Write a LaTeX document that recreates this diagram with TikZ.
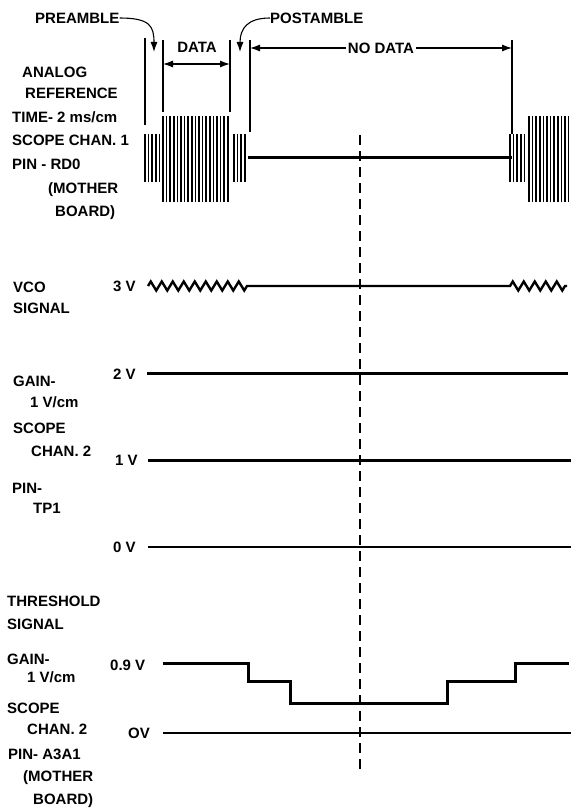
\documentclass[tikz,border=0pt]{standalone}
\usepackage{fontspec}
\setmainfont{Liberation Sans}
\usetikzlibrary{positioning,arrows.meta,decorations.pathmorphing}

\begin{document}
\begin{tikzpicture}[
		  x=1pt,y=-1pt,
		  lbl/.style={font=\fontsize{15}{17}\selectfont\bfseries,inner sep=0pt,anchor=west,text height=10.7pt,text depth=0pt},
		  marker/.style={line width=1.4pt},
		  burst/.style={line width=1.7pt},
		  trace/.style={line width=3pt},
		  baseline/.style={line width=2.4pt},
		  leader/.style={line width=1.1pt,-{Latex[length=10pt,width=7pt]}},
		  dimarrow/.style={line width=1.1pt,{Latex[length=10pt,width=7pt]}-{Latex[length=10pt,width=7pt]}},
		  zig/.style={decoration={zigzag,segment length=11,amplitude=4.5}},
		  midline/.style={line width=1.4pt,dash pattern=on 10pt off 6pt}
		]
		\useasboundingbox (0,0) rectangle (571,808);

		% top: channel 1 labels
		\node[lbl] (pre) at (35,18) {PREAMBLE};
		\node[lbl] (post) at (270,18) {POSTAMBLE};
		\node[lbl,anchor=center] (data) at (197,47) {DATA};
		\node[lbl] (analog) at (22,72) {ANALOG};
		\node[lbl] (ref) at (25,93) {REFERENCE};
		\node[lbl] (time) at (12,117) {TIME- 2 ms/cm};
		\node[lbl] (scope1) at (12,140) {SCOPE CHAN. 1};
		\node[lbl] (pin1) at (12,164) {PIN - RD0};
		\node[lbl] (mother1) at (48,188) {(MOTHER};
		\node[lbl] (board1) at (55,211) {BOARD)};

		% marker lines
		\coordinate (m1t) at (145,38);  \coordinate (m1b) at (145,125);
		\coordinate (m2t) at (163,40);  \coordinate (m2b) at (163,112);
		\coordinate (m3t) at (230,40);  \coordinate (m3b) at (230,112);
		\coordinate (m4t) at (250,40);  \coordinate (m4b) at (250,132);
		\coordinate (m5t) at (512,40);  \coordinate (m5b) at (512,134);
		\foreach \m in {m1,m2,m3,m4,m5}
			\draw[marker] (\m t) -- (\m b);

		% leaders and spans
		\coordinate (preTip) at (154,52);
		\coordinate (postTip) at (240,52);
		\draw[leader] (pre.east) .. controls (150,18) and (154,26) .. (preTip);
		\draw[leader] (post.west) .. controls (248,18) and (240,28) .. (postTip);
		\draw[dimarrow] (163,64) -- (230,64);
		\draw[dimarrow] (250,48) -- node[lbl,anchor=center,fill=white,inner xsep=2pt] (nodata) {NO DATA} (512,48);

		% bursts
		\foreach \xa/\xb/\ya/\yb in {145/160/134/182, 163/230/116/202, 234/248/134/182, 510/525/134/182, 529/569/116/202}{
			\pgfmathsetmacro\xnext{\xa+3.6}
			\foreach \x in {\xa,\xnext,...,\xb}
				\draw[burst] (\x,\ya) -- (\x,\yb);
		}
		\coordinate (rd0a) at (248,157);
		\coordinate (rd0b) at (512,157);
		\draw[trace] (rd0a) -- (rd0b);

		% dashed centre
		\coordinate (cTop) at (360,135);
		\coordinate (cBot) at (360,775);
		\draw[midline] (cTop) -- (cBot);

		% VCO signal
		\node[lbl] (vco) at (13,287) {VCO};
		\node[lbl] (vcosig) at (13,308) {SIGNAL};
		\node[lbl] (v3) at (113,286) {3 V};
		\draw[line width=2.4pt,line join=miter] (148,286) decorate[zig]{-- (247,286)} -- (510,286) decorate[zig]{-- (567,286)};

		% channel 2, TP1
		\node[lbl] (v2) at (113,374) {2 V};
		\node[lbl] (gain2) at (13,381) {GAIN-};
		\node[lbl] (cm2) at (30,402) {1 V/cm};
		\node[lbl] (scope2) at (13,428) {SCOPE};
		\node[lbl] (chan2) at (31,451) {CHAN. 2};
		\node[lbl] (v1) at (115,460) {1 V};
		\node[lbl] (pin2) at (12,488) {PIN-};
		\node[lbl] (tp1) at (33,508) {TP1};
		\node[lbl] (v0) at (113,547) {0 V};
		\draw[trace] (147,373) -- (568,373);
		\draw[trace] (148,460) -- (571,460);
		\draw[baseline] (148,547) -- (571,547);

		% threshold signal
		\node[lbl] (thr) at (7,601) {THRESHOLD};
		\node[lbl] (thrsig) at (7,624) {SIGNAL};
		\node[lbl] (gain3) at (7,659) {GAIN-};
		\node[lbl] (cm3) at (27,677) {1 V/cm};
		\node[lbl] (scope3) at (7,708) {SCOPE};
		\node[lbl] (chan3) at (27,729) {CHAN. 2};
		\node[lbl] (pin3) at (8,754) {PIN- A3A1};
		\node[lbl] (mother3) at (23,776) {(MOTHER};
		\node[lbl] (board3) at (33,799) {BOARD)};
		\node[lbl] (v09) at (110,665) {0.9 V};
		\node[lbl] (ov) at (128,733) {OV};
		\draw[trace,line join=miter] (163,663) -| (248,681) -| (290,703) -| (447,681) -| (515,663) -- (569,663);
		\draw[baseline,line width=2.6pt] (163,733) -- (571,733);
		\end{tikzpicture}
\end{document}
